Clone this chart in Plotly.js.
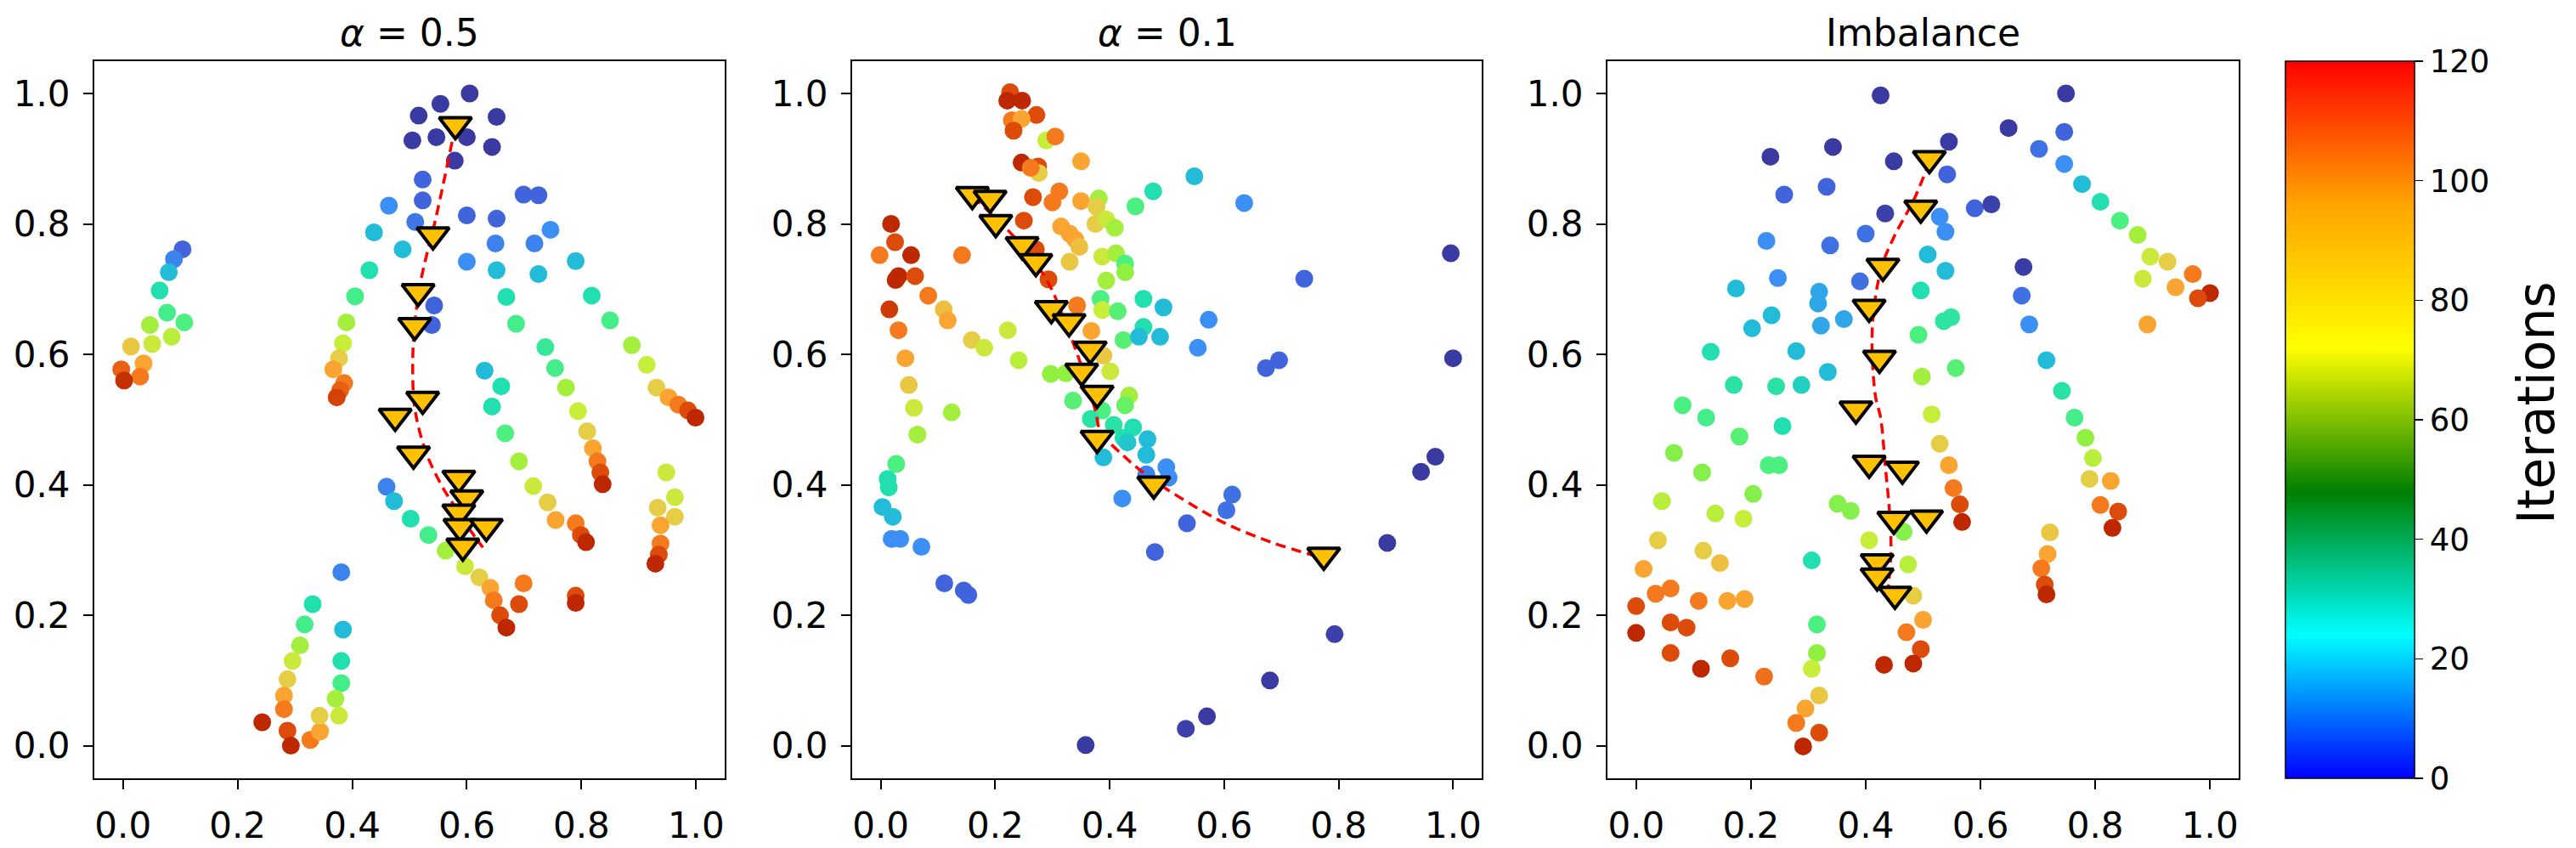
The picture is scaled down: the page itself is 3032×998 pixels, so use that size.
<!DOCTYPE html>
<html>
<head>
<meta charset="utf-8">
<script src="https://cdn.plot.ly/plotly-3.0.1.min.js"></script>
<style>html,body{margin:0;padding:0;background:#fff;}#chart{width:3032px;height:998px;}</style>
</head>
<body>
<div id="chart"></div>
<script>
// ---------- data ----------
const titles = ["<i>α</i> = 0.5", "<i>α</i> = 0.1", "Imbalance"];
const tickVals = [0, 0.2, 0.4, 0.6, 0.8, 1.0];
const tickText = ["0.0", "0.2", "0.4", "0.6", "0.8", "1.0"];
const cbarTicks = [0, 20, 40, 60, 80, 100, 120];
const cbarTitle = "Iterations";

// panel 1 (alpha = 0.5)
const p1x = [0.605,0.554,0.516,0.652,0.505,0.547,0.600,0.644,0.579,0.523,0.523,0.464,0.510,0.600,0.652,0.699,0.725,0.746,0.438,0.488,0.600,0.650,0.718,0.652,0.725,0.790,0.430,0.543,0.539,0.405,0.669,0.818,0.390,0.686,0.850,0.384,0.737,0.888,0.377,0.367,0.631,0.754,0.914,0.386,0.379,0.373,0.660,0.773,0.931,0.644,0.794,0.952,0.969,0.986,0.999,0.104,0.089,0.080,0.064,0.077,0.107,0.047,0.085,0.051,0.014,0.036,-0.003,0.030,0.002,0.667,0.691,0.716,0.741,0.755,0.790,0.799,0.808,0.810,0.820,0.828,0.833,0.837,0.948,0.963,0.933,0.963,0.938,0.938,0.935,0.929,0.460,0.473,0.502,0.533,0.563,0.597,0.622,0.641,0.647,0.658,0.669,0.699,0.691,0.790,0.790,0.381,0.331,0.317,0.309,0.296,0.287,0.281,0.281,0.287,0.293,0.243,0.327,0.344,0.343,0.384,0.381,0.381,0.371,0.377];
const p1y = [1.000,0.984,0.966,0.964,0.928,0.933,0.933,0.918,0.897,0.868,0.836,0.828,0.803,0.813,0.808,0.845,0.844,0.791,0.787,0.761,0.742,0.770,0.770,0.729,0.723,0.743,0.729,0.675,0.645,0.689,0.688,0.690,0.649,0.647,0.652,0.617,0.611,0.614,0.594,0.577,0.575,0.579,0.584,0.556,0.545,0.534,0.551,0.549,0.549,0.520,0.513,0.534,0.523,0.514,0.503,0.761,0.746,0.726,0.698,0.664,0.649,0.645,0.627,0.616,0.612,0.586,0.577,0.566,0.560,0.479,0.436,0.398,0.373,0.346,0.341,0.323,0.312,0.482,0.456,0.436,0.419,0.401,0.419,0.381,0.365,0.351,0.338,0.310,0.293,0.279,0.397,0.375,0.348,0.323,0.299,0.275,0.258,0.242,0.223,0.200,0.181,0.249,0.217,0.230,0.219,0.266,0.217,0.186,0.154,0.130,0.102,0.077,0.056,0.023,0.000,0.036,0.009,0.022,0.046,0.178,0.130,0.096,0.072,0.046];
const p1it = [2,2,2,2,2,2,2,2,2,10,10,17,13,10,10,10,10,17,23,23,17,15,15,23,23,23,30,10,10,38,30,30,55,38,38,60,35,55,73,86,23,38,60,95,100,106,30,55,73,30,60,86,95,104,112,10,15,23,30,38,40,55,58,62,75,86,100,95,110,40,55,62,73,86,95,104,112,73,86,95,104,112,62,62,73,73,86,95,104,112,15,23,30,38,55,62,73,86,95,104,112,95,104,104,112,15,30,38,55,62,73,86,95,104,112,112,95,86,73,23,30,38,55,62];
const p1triX = [0.580,0.541,0.515,0.509,0.523,0.475,0.507,0.586,0.600,0.586,0.588,0.634,0.593];
const p1triY = [0.952,0.783,0.696,0.644,0.531,0.505,0.447,0.410,0.380,0.358,0.336,0.336,0.306];
const p1fitX = [0.580,0.547,0.519,0.507,0.507,0.513,0.530,0.556,0.581,0.603,0.628];
const p1fitY = [0.950,0.813,0.709,0.623,0.536,0.499,0.447,0.399,0.364,0.334,0.304];

// panel 2 (alpha = 0.1)
const p2x = [0.226,0.221,0.247,0.272,0.229,0.246,0.232,0.289,0.305,0.350,0.246,0.275,0.276,0.262,0.266,0.312,0.300,0.350,0.381,0.377,0.445,0.476,0.250,0.315,0.330,0.340,0.347,0.375,0.394,0.409,0.330,0.387,0.411,0.427,0.427,0.394,0.293,0.271,0.018,0.025,-0.002,0.053,0.142,0.031,0.026,0.060,0.083,0.110,0.117,0.015,0.031,0.043,0.049,0.058,0.064,0.124,0.159,0.181,0.222,0.241,0.027,0.012,0.014,0.003,0.021,0.019,0.034,0.071,0.111,0.145,0.153,0.297,0.323,0.336,0.343,0.368,0.389,0.401,0.384,0.387,0.414,0.424,0.459,0.459,0.451,0.434,0.427,0.387,0.367,0.407,0.441,0.424,0.431,0.466,0.464,0.389,0.464,0.422,0.494,0.573,0.488,0.554,0.673,0.696,1.000,0.996,0.740,0.635,0.548,0.358,0.533,0.570,0.680,0.793,0.885,0.944,0.969,0.479,0.535,0.604,0.614,0.499,0.503];
const p2y = [1.002,0.989,0.989,0.967,0.959,0.961,0.943,0.928,0.934,0.896,0.894,0.888,0.878,0.886,0.841,0.850,0.833,0.835,0.839,0.826,0.827,0.850,0.805,0.796,0.785,0.776,0.765,0.800,0.807,0.794,0.742,0.750,0.755,0.739,0.726,0.713,0.715,0.761,0.800,0.772,0.752,0.752,0.752,0.720,0.714,0.720,0.690,0.669,0.652,0.669,0.637,0.594,0.553,0.518,0.477,0.511,0.622,0.610,0.637,0.591,0.432,0.409,0.396,0.366,0.351,0.317,0.317,0.305,0.249,0.238,0.231,0.570,0.571,0.529,0.675,0.636,0.598,0.574,0.685,0.668,0.666,0.622,0.685,0.642,0.627,0.537,0.522,0.514,0.501,0.492,0.488,0.472,0.465,0.470,0.446,0.442,0.416,0.379,0.672,0.653,0.627,0.610,0.579,0.591,0.594,0.755,0.716,0.832,0.873,0.001,0.026,0.045,0.100,0.171,0.311,0.420,0.443,0.297,0.341,0.361,0.385,0.427,0.411];
const p2it = [104,112,112,104,95,86,104,60,95,86,112,104,73,95,104,95,95,86,55,73,40,30,104,86,86,86,78,73,62,55,75,62,55,40,52,55,104,104,112,104,95,112,95,112,112,104,95,78,86,108,95,86,75,62,55,55,73,62,62,58,40,30,30,23,23,17,17,17,10,10,10,52,52,42,95,86,75,62,40,60,42,42,30,30,23,55,45,40,32,32,30,30,25,23,23,23,15,17,23,17,23,17,10,10,2,2,10,17,23,2,5,2,2,5,2,2,2,10,10,12,12,17,17];
const p2triX = [0.160,0.191,0.201,0.247,0.271,0.298,0.329,0.366,0.351,0.378,0.378,0.477,0.774];
const p2triY = [0.845,0.839,0.802,0.768,0.742,0.670,0.650,0.608,0.574,0.540,0.471,0.401,0.292];
const p2fitX = [0.160,0.230,0.290,0.324,0.350,0.375,0.384,0.426,0.469,0.520,0.597,0.682,0.768];
const p2fitY = [0.842,0.783,0.714,0.645,0.584,0.514,0.482,0.443,0.412,0.382,0.343,0.312,0.289];

// panel 3 (Imbalance)
const p3x = [0.426,0.749,0.649,0.746,0.545,0.702,0.746,0.777,0.809,0.843,0.874,0.896,0.926,0.970,1.000,0.979,0.940,0.883,0.891,0.234,0.343,0.449,0.542,0.258,0.332,0.434,0.590,0.619,0.529,0.539,0.400,0.227,0.338,0.508,0.539,0.675,0.247,0.390,0.174,0.319,0.317,0.496,0.672,0.236,0.202,0.322,0.362,0.536,0.549,0.685,0.492,0.130,0.279,0.334,0.715,0.557,0.498,0.170,0.244,0.288,0.742,0.081,0.122,0.255,0.515,0.764,0.180,0.066,0.115,0.231,0.249,0.045,0.204,0.138,0.187,0.038,0.117,0.146,0.013,0.306,0.351,0.374,0.406,0.466,0.474,0.483,0.500,0.471,0.496,0.483,0.432,0.529,0.545,0.553,0.564,0.568,0.783,0.796,0.790,0.827,0.809,0.840,0.830,0.721,0.717,0.706,0.712,0.715,0.060,0.034,0.109,0.159,0.189,0.000,0.060,0.088,0.000,0.060,0.164,0.113,0.223,0.315,0.315,0.306,0.319,0.295,0.279,0.319,0.291];
const p3y = [0.997,1.000,0.947,0.941,0.926,0.915,0.892,0.861,0.834,0.805,0.783,0.750,0.742,0.723,0.694,0.686,0.703,0.716,0.646,0.903,0.918,0.896,0.876,0.845,0.857,0.816,0.824,0.830,0.811,0.788,0.785,0.774,0.767,0.753,0.728,0.734,0.717,0.712,0.701,0.696,0.678,0.698,0.690,0.660,0.640,0.644,0.654,0.651,0.657,0.646,0.630,0.604,0.605,0.573,0.591,0.579,0.566,0.553,0.551,0.553,0.544,0.522,0.503,0.490,0.508,0.503,0.474,0.449,0.419,0.430,0.430,0.375,0.386,0.356,0.348,0.315,0.299,0.280,0.271,0.284,0.371,0.360,0.315,0.328,0.278,0.230,0.193,0.174,0.148,0.126,0.124,0.463,0.430,0.395,0.370,0.343,0.472,0.441,0.409,0.406,0.369,0.359,0.334,0.327,0.294,0.272,0.247,0.232,0.241,0.233,0.222,0.222,0.225,0.214,0.189,0.181,0.173,0.142,0.134,0.118,0.106,0.186,0.142,0.118,0.077,0.057,0.035,0.020,-0.001];
const p3it = [2,2,2,10,2,12,17,23,30,40,55,62,73,95,112,104,86,62,86,2,2,2,10,10,10,5,10,5,17,17,12,17,12,23,23,3,17,12,23,20,20,30,12,23,23,20,20,33,33,17,40,30,23,23,23,42,55,32,32,27,32,40,38,30,60,38,42,50,50,40,40,58,50,58,60,73,73,78,86,30,50,50,60,50,58,73,86,95,104,112,112,73,86,95,104,112,52,58,73,86,95,104,112,75,86,95,104,112,95,95,95,86,86,104,104,104,112,104,104,112,97,40,52,60,75,86,95,104,112];
const p3triX = [0.511,0.496,0.430,0.406,0.424,0.383,0.406,0.464,0.449,0.506,0.420,0.420,0.451];
const p3triY = [0.900,0.824,0.735,0.672,0.594,0.516,0.433,0.424,0.347,0.349,0.282,0.260,0.232];
const p3fitX = [0.511,0.485,0.451,0.430,0.417,0.411,0.417,0.426,0.434,0.441,0.444,0.438];
const p3fitY = [0.896,0.839,0.783,0.740,0.688,0.623,0.536,0.503,0.430,0.364,0.299,0.230];

// ---------- styling ----------
const W = 3032, H = 998;
const FONT = "DejaVu Sans, Liberation Sans, sans-serif";
const dotScale = [
  [0, "#37379c"], [5/120, "#3b40aa"], [10/120, "#4164dc"], [17/120, "#3c90f5"],
  [23/120, "#22bcd8"], [30/120, "#22dfb0"], [40/120, "#4cf080"], [52/120, "#90f040"],
  [60/120, "#c6ee3a"], [73/120, "#e6cd46"], [86/120, "#faa532"], [95/120, "#f57a1e"],
  [104/120, "#dc4b0a"], [112/120, "#be2800"], [1, "#b02000"]
];
const barScale = [[0, "#0000ff"], [0.2, "#00ffff"], [0.4, "#008000"], [0.6, "#ffff00"], [0.8, "#ffa500"], [1, "#ff0000"]];

const panels = [
  {x: p1x, y: p1y, it: p1it, tx: p1triX, ty: p1triY, fx: p1fitX, fy: p1fitY},
  {x: p2x, y: p2y, it: p2it, tx: p2triX, ty: p2triY, fx: p2fitX, fy: p2fitY},
  {x: p3x, y: p3y, it: p3it, tx: p3triX, ty: p3triY, fx: p3fitX, fy: p3fitY}
];
const xPix = [[111, 853], [1003, 1744], [1892, 2635]];
const yDom = [82 / H, (H - 71.6) / H];

const traces = [];
panels.forEach((p, i) => {
  const xa = i === 0 ? "x" : "x" + (i + 1);
  const ya = i === 0 ? "y" : "y" + (i + 1);
  traces.push({
    type: "scatter", mode: "markers", x: p.x, y: p.y, xaxis: xa, yaxis: ya,
    marker: {size: 21, color: p.it, colorscale: dotScale, cmin: 0, cmax: 120, showscale: false, line: {width: 0}},
    hoverinfo: "skip", showlegend: false
  });
  traces.push({
    type: "scatter", mode: "lines", x: p.fx, y: p.fy, xaxis: xa, yaxis: ya,
    line: {color: "#ff0000", width: 3.5, dash: "12px,7px", shape: "spline", smoothing: 1},
    hoverinfo: "skip", showlegend: false
  });
  traces.push({
    type: "scatter", mode: "markers", x: p.tx, y: p.ty, xaxis: xa, yaxis: ya,
    marker: {symbol: "triangle-down", size: 33, color: "#ffc000", line: {color: "#000000", width: 4}},
    hoverinfo: "skip", showlegend: false
  });
});
// colour bar carrier
traces.push({
  type: "scatter", mode: "markers", x: [0.5], y: [0.5], xaxis: "x3", yaxis: "y3",
  marker: {size: 1, opacity: 0, color: [0], colorscale: barScale, cmin: 0, cmax: 120, showscale: true,
    colorbar: {
      x: 2690 / W, xanchor: "left", xref: "paper", y: yDom[0], yanchor: "bottom", yref: "paper",
      len: yDom[1] - yDom[0], lenmode: "fraction", thickness: 152, thicknessmode: "pixels",
      xpad: 0, ypad: 0, outlinewidth: 1.5, outlinecolor: "#000",
      tickmode: "array", tickvals: cbarTicks, ticktext: cbarTicks.map(String),
      ticks: "outside", ticklen: 10, tickwidth: 1.5, tickcolor: "#000",
      tickfont: {family: FONT, size: 37, color: "#000"}
    }},
  hoverinfo: "skip", showlegend: false
});

const layout = {
  width: W, height: H, margin: {l: 0, r: 0, t: 0, b: 0},
  paper_bgcolor: "#fff", plot_bgcolor: "#fff", showlegend: false,
  font: {family: FONT, color: "#000"},
  annotations: []
};
function axisBase(domain, anchor) {
  return {
    domain: domain, anchor: anchor, range: [-0.05, 1.05], autorange: false,
    showline: true, mirror: true, linecolor: "#000", linewidth: 2,
    showgrid: false, zeroline: false,
    tickmode: "array", tickvals: tickVals, ticktext: tickText,
    ticks: "outside", ticklen: 11, tickwidth: 2, tickcolor: "#000",
    tickfont: {family: FONT, size: 42, color: "#000"}, ticklabelstandoff: 7
  };
}
xPix.forEach((px, i) => {
  const k = i === 0 ? "" : String(i + 1);
  layout["xaxis" + k] = axisBase([px[0] / W, px[1] / W], "y" + k);
  layout["yaxis" + k] = axisBase(yDom, "x" + k);
  layout.annotations.push({
    text: titles[i], xref: "paper", yref: "paper", x: (px[0] + px[1]) / 2 / W, y: 1 - 38 / H,
    xanchor: "center", yanchor: "middle", showarrow: false,
    font: {family: FONT, size: 44, color: "#000"}
  });
});
layout.annotations.push({
  text: cbarTitle, xref: "paper", yref: "paper", x: 2985 / W, y: 1 - 474 / H,
  xanchor: "center", yanchor: "middle", textangle: -90, showarrow: false,
  font: {family: FONT, size: 60, color: "#000"}
});

Plotly.newPlot("chart", traces, layout, {staticPlot: true, displayModeBar: false});
</script>
</body>
</html>
